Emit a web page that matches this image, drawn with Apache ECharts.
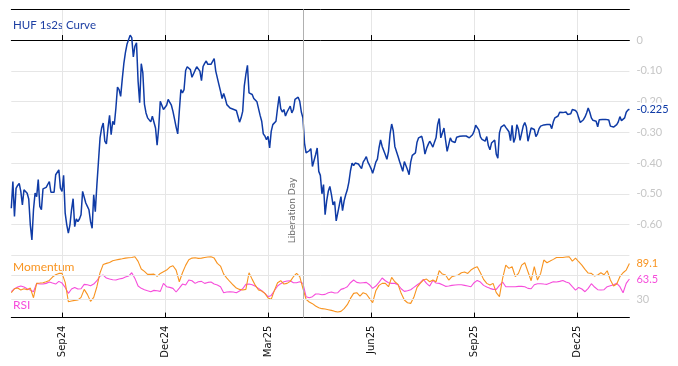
<!DOCTYPE html>
<html><head><meta charset="utf-8">
<script src="https://cdn.jsdelivr.net/npm/echarts@6/dist/echarts.min.js"></script>
<style>html,body{margin:0;padding:0;background:#fff}#c{width:678px;height:366px}</style>
</head><body><div id="c"></div>
<script>
// ---- data ----
const startDate = '2024-07-18';   // first business day shown
const endDate = '2026-01-15';     // last business day shown
const eventDate = '2025-04-02';
const eventName = 'Liberation Day';
const titleText = 'HUF 1s2s Curve';
const momentumName = 'Momentum';
const rsiName = 'RSI';
const quarterMonths = [2, 5, 8, 11];
const monthNames = ['Jan','Feb','Mar','Apr','May','Jun','Jul','Aug','Sep','Oct','Nov','Dec'];
const yTicks = [0, -0.1, -0.2, -0.3, -0.4, -0.5, -0.6];
const lowerTicks = [30];
const lowerBands = [30, 70];

// HUF 1s2s curve, one value per business day
const curve = [
-0.547,-0.460,-0.574,-0.482,-0.473,-0.466,-0.492,-0.536,-0.487,-0.490,
-0.498,-0.517,-0.601,-0.650,-0.552,-0.498,-0.509,-0.454,-0.541,-0.552,
-0.484,-0.482,-0.479,-0.479,-0.460,-0.495,-0.498,-0.495,-0.438,-0.438,
-0.422,-0.482,-0.492,-0.440,-0.563,-0.601,-0.628,-0.601,-0.552,-0.516,
-0.607,-0.582,-0.590,-0.582,-0.568,-0.492,-0.498,-0.530,-0.541,-0.552,
-0.590,-0.612,-0.503,-0.558,-0.471,-0.395,-0.318,-0.286,-0.270,-0.329,
-0.338,-0.286,-0.245,-0.308,-0.264,
-0.275,-0.221,-0.153,-0.161,-0.183,-0.128,-0.077,-0.041,-0.014,-0.012,
0.016,0.008,-0.055,-0.020,-0.009,-0.134,-0.204,-0.077,-0.107,-0.208,
-0.237,-0.253,-0.255,-0.266,-0.248,-0.245,-0.286,-0.342,-0.286,-0.199,
-0.212,-0.226,-0.229,-0.212,-0.193,-0.203,-0.212,-0.232,-0.257,-0.283,
-0.305,-0.232,-0.161,-0.172,-0.161,-0.099,-0.087,-0.085,-0.096,-0.121,
-0.118,-0.098,-0.087,-0.088,-0.101,-0.132,-0.086,-0.076,-0.068,-0.079,
-0.079,-0.079,-0.076,-0.060,-0.101,
-0.107,-0.145,-0.166,-0.190,-0.174,-0.190,-0.210,-0.210,-0.221,-0.221,
-0.225,-0.228,-0.229,-0.248,-0.267,-0.253,-0.232,-0.150,-0.112,-0.082,
-0.172,-0.166,-0.177,-0.190,-0.186,-0.201,-0.204,-0.245,-0.264,-0.305,
-0.312,-0.324,-0.313,-0.351,-0.297,-0.275,-0.275,-0.264,-0.221,-0.183,
-0.223,-0.234,-0.226,-0.247,-0.234,-0.234,-0.215,-0.237,-0.226,-0.193,
-0.197,-0.186,-0.199,-0.234,-0.253,-0.335,-0.367,-0.373,-0.360,-0.353,
-0.411,-0.411,-0.373,-0.351,-0.427,-0.440,
-0.500,-0.470,-0.568,-0.523,-0.492,-0.476,-0.503,-0.536,-0.525,-0.588,
-0.582,-0.536,-0.509,-0.555,-0.523,-0.503,-0.487,-0.462,-0.425,-0.400,
-0.408,-0.400,-0.397,-0.403,-0.408,-0.418,-0.397,-0.389,-0.379,-0.397,
-0.407,-0.418,-0.433,-0.416,-0.397,-0.387,-0.351,-0.325,-0.346,-0.349,
-0.373,-0.388,-0.362,-0.305,-0.273,-0.295,-0.346,-0.349,-0.378,-0.395,
-0.395,-0.427,-0.395,-0.395,-0.422,-0.438,-0.397,-0.375,-0.375,-0.367,
-0.332,-0.318,-0.313,-0.313,-0.335,-0.371,
-0.353,-0.340,-0.329,-0.338,-0.348,-0.332,-0.318,-0.275,-0.255,-0.318,
-0.302,-0.286,-0.325,-0.362,-0.362,-0.318,-0.329,-0.323,-0.333,-0.316,
-0.311,-0.313,-0.310,-0.312,-0.312,-0.312,-0.314,-0.318,-0.315,-0.308,
-0.297,-0.277,-0.275,-0.292,-0.315,-0.323,-0.322,-0.329,-0.314,-0.343,
-0.357,-0.335,-0.333,-0.325,-0.371,-0.384,-0.302,-0.283,-0.277,-0.276,
-0.284,-0.291,-0.298,-0.327,-0.277,-0.333,-0.318,-0.275,-0.291,-0.326,
-0.324,-0.280,-0.268,-0.283,-0.329,-0.329,
-0.286,-0.286,-0.291,-0.314,-0.305,-0.288,-0.280,-0.275,-0.276,-0.276,
-0.275,-0.275,-0.275,-0.288,-0.266,-0.253,-0.253,-0.247,-0.235,-0.232,
-0.236,-0.232,-0.234,-0.242,-0.247,-0.240,-0.226,-0.223,-0.229,-0.236,
-0.253,-0.268,-0.262,-0.259,-0.250,-0.237,-0.221,-0.235,-0.253,-0.261,
-0.265,-0.264,-0.282,-0.259,-0.257,-0.258,-0.255,-0.258,-0.253,-0.260,
-0.280,-0.284,-0.283,-0.280,-0.275,-0.266,-0.249,-0.262,-0.262,-0.253,
-0.235,-0.228,-0.225
];

// Momentum and RSI, one value every second business day
const momentum = [
40.9,47.5,48.6,45.3,47.5,45.9,48.6,32.7,56.3,56.8,
57.4,59.0,61.2,66.7,70.5,72.7,72.7,57.9,26.2,27.3,
28.4,28.9,33.3,46.4,38.2,26.7,33.3,50.8,73.8,87.5,
89.2,90.8,93.6,94.7,95.8,96.8,97.9,98.5,99.0,100.1,
92.5,79.9,76.0,71.1,71.1,71.6,67.8,72.7,75.5,78.2,
83.2,85.3,78.2,59.0,73.8,85.9,95.2,97.9,98.5,97.4,
97.9,99.0,99.6,100.1,97.9,89.2,84.8,71.6,65.1,59.0,
53.6,48.6,46.4,45.3,46.4,73.8,62.9,53.0,45.3,43.7,
39.9,32.2,30.0,44.8,57.4,60.7,55.2,56.3,59.6,67.3,
72.7,67.3,48.1,30.0,25.6,22.9,19.0,16.3,14.7,14.1,
13.0,11.9,10.3,9.2,
10.3,14.7,21.2,31.6,39.9,41.0,35.5,41.0,38.8,31.6,
24.5,44.2,53.0,56.3,56.3,50.8,66.2,59.0,54.7,39.9,
28.9,24.5,23.4,33.3,49.7,56.3,61.8,63.4,59.0,61.8,
59.0,77.1,71.6,70.0,61.8,67.3,68.9,70.0,73.8,74.9,
72.7,78.2,81.5,83.7,73.8,62.9,56.3,53.6,56.3,41.0,
34.4,64.5,86.4,81.0,83.7,67.3,72.7,86.4,90.3,75.5,
60.7,83.7,61.8,72.7,94.7,90.3,93.0,95.8,99.0,99.0,
99.0,99.6,100.1,93.0,97.9,91.9,86.4,79.3,73.3,72.7,
68.4,70.0,73.8,70.5,77.1,61.8,51.9,55.2,67.3,73.8,
78.2,89.1
];
const rsi = [
42.6,47.5,50.3,51.9,50.3,47.5,45.3,42.6,56.3,55.2,
55.2,56.3,58.5,56.8,55.2,59.6,56.8,49.7,39.9,47.0,
49.7,47.0,47.5,54.7,54.1,52.5,55.2,60.7,68.4,70.0,
65.1,63.4,62.3,61.8,63.4,64.5,66.7,68.4,73.8,64.5,
51.9,48.1,45.9,44.2,42.6,44.8,44.2,43.2,56.3,50.8,
49.7,48.1,42.1,48.6,55.2,53.6,61.8,60.7,56.3,59.0,
59.6,56.3,57.9,58.5,55.2,53.6,50.8,40.9,42.0,42.6,
42.0,40.9,43.7,47.5,54.7,55.2,54.1,51.4,48.1,44.2,
39.9,34.4,36.5,44.2,51.9,55.8,59.0,60.1,60.7,57.4,
57.4,59.0,56.3,34.4,32.7,34.4,38.8,38.8,37.7,38.2,
40.9,42.0,40.4,40.9,
46.4,48.1,50.8,57.4,61.8,57.9,56.8,57.4,57.9,54.1,
48.1,51.9,57.9,65.1,60.7,57.4,56.3,56.3,54.1,47.5,
43.1,44.2,45.9,49.7,53.6,57.4,62.9,56.3,51.9,61.2,
56.8,56.3,54.1,51.4,51.9,53.0,53.6,54.1,54.1,53.0,
51.9,50.8,57.4,61.2,58.5,53.0,50.3,48.1,46.4,46.4,
53.0,58.5,50.8,50.8,50.8,50.8,51.4,51.4,50.8,48.1,
47.5,54.1,55.8,55.8,55.2,54.7,56.8,59.0,58.5,59.6,
61.2,58.5,56.8,50.8,45.3,49.7,47.0,42.6,48.1,55.8,
50.3,45.9,45.3,45.9,50.8,52.5,54.1,56.3,50.8,40.9,
56.3,63.5
];

// ---- helpers ----
function businessDays(s, e) {
  const out = [];
  const d = new Date(s + 'T00:00:00Z');
  const end = new Date(e + 'T00:00:00Z');
  while (d <= end) {
    const wd = d.getUTCDay();
    if (wd !== 0 && wd !== 6) out.push(d.toISOString().slice(0, 10));
    d.setUTCDate(d.getUTCDate() + 1);
  }
  return out;
}
const dates = businessDays(startDate, endDate);
const lowerDates = dates.filter((d, i) => i % 2 === 0);
const monthOf = s => +s.slice(5, 7) - 1;
function isQuarterStart(idx) {
  if (idx <= 0) return false;
  const m = monthOf(dates[idx]);
  return quarterMonths.indexOf(m) >= 0 && monthOf(dates[idx - 1]) !== m;
}
const near = (a, b) => Math.abs(a - b) < 1e-6;

const BLUE = '#0f3ba6', ORANGE = '#f8931f', MAGENTA = '#f64ddb';
const GRID_C = '#e6e6e6', LABEL_C = '#c6c6c6';
const LEFT = 11.3, RIGHT = 48.6;

const chart = echarts.init(document.getElementById('c'), null, {renderer: 'canvas'});
chart.setOption({
  animation: false,
  backgroundColor: '#fff',
  textStyle: {fontFamily: 'Lato'},
  grid: [
    {left: LEFT, right: RIGHT, top: 9.3, height: 246},
    {left: LEFT, right: RIGHT, top: 255.3, height: 62.3}
  ],
  xAxis: [
    {type: 'category', gridIndex: 0, data: dates, boundaryGap: false, position: 'bottom',
      axisLine: {lineStyle: {color: '#000', width: 1}},
      axisTick: {show: true, inside: true, length: 5, interval: isQuarterStart, lineStyle: {color: '#000'}},
      axisLabel: {show: false},
      splitLine: {show: true, interval: isQuarterStart, lineStyle: {color: GRID_C, width: 1}}},
    {type: 'category', gridIndex: 0, data: dates, boundaryGap: false, position: 'top',
      axisLine: {lineStyle: {color: '#000', width: 1}},
      axisTick: {show: false}, axisLabel: {show: false}, splitLine: {show: false}},
    {type: 'category', gridIndex: 1, data: dates, boundaryGap: false, position: 'bottom',
      axisLine: {lineStyle: {color: '#000', width: 1}},
      axisTick: {show: true, inside: true, length: 5, interval: isQuarterStart, lineStyle: {color: '#000'}},
      axisLabel: {show: true, interval: isQuarterStart, rotate: 90, margin: 8,
        color: '#111', fontFamily: 'DejaVu Sans', fontSize: 10,
        formatter: v => monthNames[monthOf(v)] + v.slice(2, 4)},
      splitLine: {show: true, interval: isQuarterStart, lineStyle: {color: GRID_C, width: 1}}}
  ],
  yAxis: [
    {type: 'value', gridIndex: 0, position: 'right', min: -0.7, max: 0.1, interval: 0.1,
      axisLine: {show: false}, axisTick: {show: false},
      splitLine: {show: true, lineStyle: {color: GRID_C, width: 1}},
      axisLabel: {margin: 7, color: LABEL_C, fontFamily: 'Lato', fontSize: 11,
        formatter: v => {
          const t = yTicks.find(x => near(x, v));
          if (t === undefined) return '';
          return near(t, 0) ? '0' : t.toFixed(2);
        }}},
    {type: 'value', gridIndex: 1, position: 'right', min: 0, max: 102.5, interval: 10,
      axisLine: {show: false}, axisTick: {show: false}, splitLine: {show: false},
      axisLabel: {margin: 7, color: LABEL_C, fontFamily: 'Lato', fontSize: 11,
        formatter: v => lowerTicks.some(x => near(x, v)) ? String(v) : ''}}
  ],
  graphic: [
    {type: 'text', left: 13, top: 19, style: {text: titleText, fill: '#1d3fa3', font: '11.5px Lato'}},
    {type: 'text', left: 13, top: 261, style: {text: momentumName, fill: ORANGE, font: '12px Lato'}},
    {type: 'text', left: 13, top: 299, style: {text: rsiName, fill: MAGENTA, font: '12px Lato'}}
  ],
  series: [
    {type: 'line', name: 'HUF 1s2s', xAxisIndex: 0, yAxisIndex: 0, data: curve,
      showSymbol: false, symbol: 'none', z: 3,
      lineStyle: {color: BLUE, width: 1.5},
      endLabel: {show: true, formatter: p => p.value.toFixed(3), color: BLUE,
        fontFamily: 'Lato', fontSize: 11, distance: 5, backgroundColor: '#fff', padding: [1, 2]},
      markLine: {silent: true, symbol: ['none', 'none'], animation: false,
        lineStyle: {color: '#b0b0b0', type: 'solid', width: 1},
        label: {show: true, position: 'insideStartTop', formatter: eventName, color: '#6e6e6e',
          fontFamily: 'DejaVu Sans', fontSize: 9, distance: [12, 6]},
        data: [{xAxis: eventDate}]}},
    {type: 'line', name: rsiName, xAxisIndex: 2, yAxisIndex: 1,
      data: rsi.map((v, i) => [lowerDates[i], v]),
      showSymbol: false, symbol: 'none', z: 3,
      lineStyle: {color: MAGENTA, width: 1.1},
      endLabel: {show: true, formatter: p => p.value[1].toFixed(1), color: MAGENTA,
        fontFamily: 'Lato', fontSize: 11, distance: 5, backgroundColor: '#fff', padding: [1, 2]},
      markLine: {silent: true, symbol: ['none', 'none'], animation: false, label: {show: false},
        data: [
          {xAxis: eventDate, lineStyle: {color: '#b0b0b0', type: 'solid', width: 1}},
          ...lowerBands.map(b => ({yAxis: b, lineStyle: {color: GRID_C, type: 'solid', width: 1}}))
        ]}},
    {type: 'line', name: momentumName, xAxisIndex: 2, yAxisIndex: 1,
      data: momentum.map((v, i) => [lowerDates[i], v]),
      showSymbol: false, symbol: 'none', z: 4,
      lineStyle: {color: ORANGE, width: 1.1},
      endLabel: {show: true, formatter: p => p.value[1].toFixed(1), color: ORANGE,
        fontFamily: 'Lato', fontSize: 11, distance: 5, backgroundColor: '#fff', padding: [1, 2]}}
  ]
});
</script></body></html>
